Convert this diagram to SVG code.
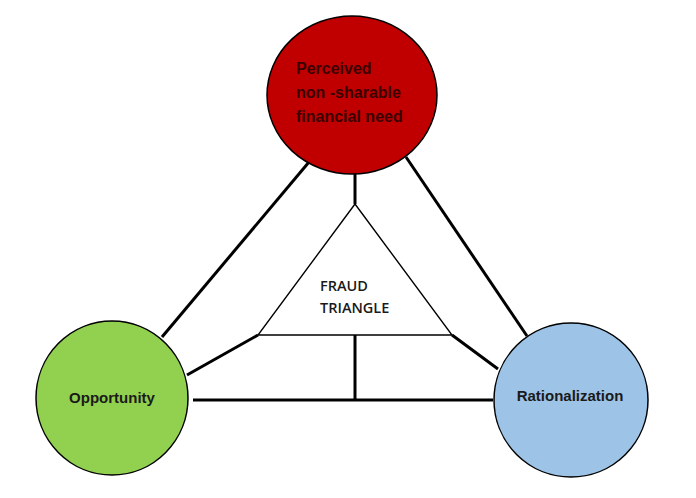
<svg xmlns="http://www.w3.org/2000/svg" width="696" height="498" viewBox="0 0 696 498">
<style>
.node{stroke:#000;stroke-width:1.5}
.thick{stroke:#000;stroke-width:3;fill:none;stroke-linecap:butt}
.thin{stroke:#000;stroke-width:1.4;fill:none}
.lbl{font-family:"Liberation Sans",Arial,sans-serif;font-weight:bold;font-size:15px;fill:#1a1a1a}
.top{font-size:16px;fill:#3a0000}
.mid{font-family:"Open Sans","Liberation Sans",sans-serif;font-weight:600;font-size:14.5px}
</style>
<rect width="696" height="498" fill="#fff"/>
<g id="connectors">
<line class="thick" x1="309" y1="162" x2="162" y2="337"/>
<line class="thick" x1="406" y1="157" x2="527" y2="336"/>
<line class="thick" x1="355" y1="173" x2="355" y2="204"/>
<line class="thick" x1="258" y1="335" x2="187" y2="375"/>
<line class="thick" x1="452" y1="335" x2="498" y2="369"/>
<line class="thick" x1="193" y1="400" x2="493" y2="400"/>
<line class="thick" x1="355" y1="335" x2="355" y2="400"/>
</g>
<g id="fraud-triangle">
<polygon class="thin" points="355,204 258,335 452,335" fill="#fff"/>
<text class="lbl mid" x="320" y="291">FRAUD</text>
<text class="lbl mid" x="320" y="313">TRIANGLE</text>
</g>
<g id="need">
<ellipse class="node" cx="352" cy="95" rx="85" ry="79" fill="#C00000"/>
<text class="lbl top" x="296" y="74">Perceived</text>
<text class="lbl top" x="296" y="98">non -sharable</text>
<text class="lbl top" x="296" y="122">financial need</text>
</g>
<g id="opportunity">
<ellipse class="node" cx="112" cy="398" rx="76" ry="77" fill="#92D050"/>
<text class="lbl" x="112" y="403" text-anchor="middle">Opportunity</text>
</g>
<g id="rationalization">
<ellipse class="node" cx="571" cy="400" rx="77" ry="77" fill="#9DC3E6"/>
<text class="lbl" x="570" y="401" text-anchor="middle">Rationalization</text>
</g>
</svg>
